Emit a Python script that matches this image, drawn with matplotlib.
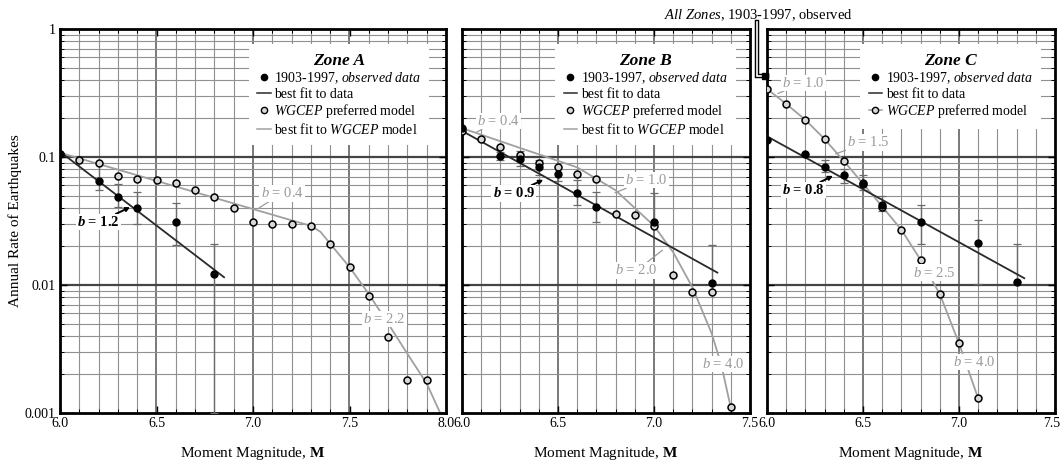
import matplotlib
matplotlib.use("Agg")
import matplotlib.pyplot as plt
import numpy as np
from matplotlib import ticker
from matplotlib.lines import Line2D
from matplotlib.transforms import ScaledTranslation

plt.rcParams["font.family"] = ["Liberation Serif", "DejaVu Serif"]
plt.rcParams["mathtext.fontset"] = "custom"
plt.rcParams["mathtext.rm"] = "Liberation Serif"
plt.rcParams["mathtext.it"] = "Liberation Serif:italic"
plt.rcParams["mathtext.bf"] = "Liberation Serif:bold"
plt.rcParams["mathtext.bfit"] = "Liberation Serif:italic:bold"

# ---- Zone A ----
a_obs_m = [6.0, 6.2, 6.3, 6.4, 6.6, 6.8]
a_obs_rate = [0.105, 0.065, 0.049, 0.040, 0.031, 0.0122]
a_obs_low = [0.105, 0.055, 0.041, 0.030, 0.0205, 0.001]
a_obs_high = [0.105, 0.090, 0.062, 0.053, 0.044, 0.021]
a_fit_m = [6.0, 6.85]
a_fit_rate = [0.11, 0.0115]
a_model_m = [6.0, 6.1, 6.2, 6.3, 6.4, 6.5, 6.6, 6.7, 6.8, 6.9,
             7.0, 7.1, 7.2, 7.3, 7.4, 7.5, 7.6, 7.7, 7.8, 7.9]
a_model_rate = [0.105, 0.095, 0.090, 0.071, 0.067, 0.066, 0.063, 0.055, 0.049, 0.040,
                0.031, 0.030, 0.030, 0.029, 0.021, 0.0138, 0.0082, 0.0039, 0.0018, 0.0018]
a_model_fit_m = [6.0, 7.2, 7.3, 7.35, 7.4, 7.5, 7.6, 7.7, 7.8, 7.9, 7.97]
a_model_fit_rate = [0.108, 0.032, 0.029, 0.026, 0.021, 0.0138, 0.0085, 0.005, 0.0029, 0.0017, 0.001]

# ---- Zone B ----
b_obs_m = [6.0, 6.2, 6.3, 6.4, 6.5, 6.6, 6.7, 7.0, 7.3]
b_obs_rate = [0.17, 0.102, 0.097, 0.083, 0.074, 0.052, 0.041, 0.031, 0.0104]
b_obs_low = [0.17, 0.095, 0.085, 0.072, 0.065, 0.042, 0.031, 0.031, 0.0088]
b_obs_high = [0.17, 0.11, 0.112, 0.095, 0.083, 0.066, 0.053, 0.052, 0.0205]
b_fit_m = [6.0, 7.33]
b_fit_rate = [0.16, 0.0125]
b_model_m = [6.0, 6.1, 6.2, 6.3, 6.4, 6.5, 6.6, 6.7, 6.8, 6.9, 7.0, 7.1, 7.2, 7.3, 7.4]
b_model_rate = [0.16, 0.138, 0.12, 0.104, 0.09, 0.083, 0.074, 0.067, 0.036, 0.035,
                0.029, 0.012, 0.0088, 0.0088, 0.00112]
b_model_fit_m = [6.0, 6.3, 6.6, 6.8, 7.0, 7.1, 7.2, 7.3, 7.35, 7.4]
b_model_fit_rate = [0.168, 0.118, 0.083, 0.055, 0.029, 0.018, 0.0096, 0.0042, 0.0024, 0.0011]

# ---- Zone C ----
c_obs_m = [6.0, 6.2, 6.3, 6.4, 6.5, 6.6, 6.8, 7.1, 7.3]
c_obs_rate = [0.136, 0.105, 0.084, 0.072, 0.063, 0.042, 0.031, 0.0213, 0.0106]
c_obs_low = [0.136, 0.105, 0.076, 0.063, 0.055, 0.038, 0.021, 0.0102, 0.0106]
c_obs_high = [0.136, 0.105, 0.095, 0.080, 0.072, 0.050, 0.042, 0.032, 0.021]
c_fit_m = [6.0, 7.34]
c_fit_rate = [0.145, 0.0113]
c_model_m = [6.0, 6.1, 6.2, 6.3, 6.4, 6.5, 6.6, 6.7, 6.8, 6.9, 7.0, 7.1]
c_model_rate = [0.34, 0.26, 0.195, 0.138, 0.093, 0.062, 0.041, 0.027, 0.0157, 0.0085, 0.0035, 0.0013]

all_zones_m = 6.0
all_zones_rate = 0.43

# b-value labels: text, centre (m, rate), arrow target or None, bold
a_labels = [("1.2", 6.2, 0.031, (6.37, 0.041), True),
            ("0.4", 7.15, 0.052, (7.02, 0.039), False),
            ("2.2", 7.68, 0.0054, None, False)]
b_labels = [("0.4", 6.19, 0.19, (6.07, 0.155), False),
            ("1.0", 6.96, 0.066, (6.79, 0.052), False),
            ("0.9", 6.27, 0.052, (6.43, 0.067), True),
            ("2.0", 6.91, 0.013, (7.05, 0.019), False),
            ("4.0", 7.36, 0.0024, None, False)]
c_labels = [("1.0", 6.19, 0.38, (6.05, 0.31), False),
            ("1.5", 6.53, 0.13, (6.35, 0.105), False),
            ("0.8", 6.19, 0.055, (6.35, 0.072), True),
            ("2.5", 6.87, 0.0125, None, False),
            ("4.0", 7.08, 0.0025, None, False)]

DARK = "#2a2a2a"
GREY = "#a0a0a0"
TEXT_GREY = "#9a9a9a"

fig = plt.figure(figsize=(10.62, 4.65), dpi=100)
W, H = 1062, 465
bottom, height = 1 - 413 / H, 384 / H
ax_a = fig.add_axes([60 / W, bottom, 386 / W, height])
ax_b = fig.add_axes([462 / W, bottom, 288 / W, height])
ax_c = fig.add_axes([767 / W, bottom, 288 / W, height])


def setup_axes(ax, xmax):
    ax.set_yscale("log")
    ax.set_xlim(6.0, xmax)
    ax.set_ylim(0.001, 1)
    # grid drawn by hand so the legend box can sit on top of it
    for m in np.arange(6.1, xmax - 0.05, 0.1):
        major = abs(m * 2 - round(m * 2)) < 1e-6
        ax.axvline(m, color="#555555" if major else "#909090",
                   lw=1.1 if major else 0.8, zorder=0.5)
    for dec in [0.001, 0.01, 0.1]:
        for k in range(2, 10):
            ax.axhline(dec * k, color="#909090", lw=0.8, zorder=0.5)
        if dec > 0.001:
            ax.axhline(dec, color="#444444", lw=1.6, zorder=0.5)
    ax.xaxis.set_major_locator(ticker.FixedLocator(np.arange(6.0, xmax + 0.01, 0.5)))
    ax.xaxis.set_minor_locator(ticker.MultipleLocator(0.1))
    ax.xaxis.set_major_formatter(ticker.FormatStrFormatter("%.1f"))
    ax.yaxis.set_major_locator(ticker.LogLocator(base=10))
    ax.yaxis.set_minor_locator(ticker.LogLocator(base=10, subs=np.arange(2, 10)))
    ax.yaxis.set_major_formatter(ticker.FuncFormatter(lambda v, p: f"{v:g}"))
    ax.yaxis.set_minor_formatter(ticker.NullFormatter())
    ax.tick_params(which="both", direction="in", top=True, right=True,
                   labelsize=10, pad=3, colors="black")
    ax.tick_params(which="major", length=5, width=1)
    ax.tick_params(which="minor", length=3, width=0.7)
    for s in ax.spines.values():
        s.set_linewidth(2.0)
    ax.set_xlabel(r"Moment Magnitude, $\mathbf{M}$", fontsize=11, labelpad=11)


def draw_observed(ax, m, rate, low, high, fit_m, fit_rate):
    rate = np.array(rate)
    yerr = [rate - np.array(low), np.array(high) - rate]
    ax.errorbar(m, rate, yerr=yerr, fmt="none", ecolor="#6a6a6a",
                elinewidth=1.0, capsize=3, capthick=0.9, zorder=3)
    ax.plot(fit_m, fit_rate, color=DARK, lw=1.3, zorder=3)
    ax.plot(m, rate, "o", color="black", ms=5, zorder=5)


def draw_model(ax, m, rate, fit_m=None, fit_rate=None):
    if fit_m is not None:
        ax.plot(fit_m, fit_rate, color=GREY, lw=1.3, zorder=2)
    else:
        ax.plot(m, rate, color=GREY, lw=1.3, zorder=2)
    ax.plot(m, rate, "o", mfc="#d8d8d8", mec="black", mew=1.1, ms=5, zorder=4)


def draw_labels(ax, labels):
    for val, x, y, target, bold in labels:
        color = "black" if bold else TEXT_GREY
        txt = (r"$\mathbfit{b}$ = " if bold else r"$b$ = ") + val
        bbox = dict(boxstyle="square,pad=0.08", fc="white", ec="none")
        kw = dict(ha="center", va="center", fontsize=10.5, color=color,
                  fontweight="bold" if bold else "normal", bbox=bbox, zorder=6)
        if target is None:
            ax.text(x, y, txt, **kw)
        else:
            ax.annotate(txt, xy=target, xytext=(x, y),
                        arrowprops=dict(arrowstyle="-|>" if bold else "-",
                                        color=color, lw=1.4 if bold else 0.9,
                                        mutation_scale=6, shrinkA=0, shrinkB=1),
                        **kw)


def add_legend(ax, title, three=False):
    h_obs = Line2D([], [], ls="none", marker="o", color="black", ms=4.5)
    h_fit = Line2D([], [], color=DARK, lw=1.1)
    h_mod = Line2D([], [], ls="none", marker="o", mfc="#d8d8d8", mec="black", ms=4.5)
    h_mfit = Line2D([], [], color=GREY, lw=1.1)
    lab_obs = r"1903-1997, $\mathit{observed\ data}$"
    lab_mod = r"$\mathit{WGCEP}$ preferred model"
    if three:
        h_mod = Line2D([], [], color=GREY, lw=1.1, marker="o", mfc="#d8d8d8",
                       mec="black", ms=4.5)
        handles = [h_obs, h_fit, h_mod]
        labels = [lab_obs, "best fit to data", lab_mod]
    else:
        handles = [h_obs, h_fit, h_mod, h_mfit]
        labels = [lab_obs, "best fit to data", lab_mod,
                  r"best fit to $\mathit{WGCEP}$ model"]
    leg = ax.legend(handles, labels, loc="upper right", bbox_to_anchor=(0.975, 0.978),
                    fontsize=10, frameon=True, fancybox=False, framealpha=1,
                    edgecolor="none", facecolor="white", handlelength=1.0,
                    handletextpad=0.25, labelspacing=0.12, borderpad=0.6,
                    title=title, title_fontproperties={"size": 12.5, "weight": "bold",
                                                       "style": "italic"})
    leg.set_zorder(2)
    return leg


setup_axes(ax_a, 8.0)
setup_axes(ax_b, 7.5)
setup_axes(ax_c, 7.5)
ax_b.tick_params(labelleft=False)
ax_c.tick_params(labelleft=False)
ax_a.set_ylabel("Annual Rate of Earthquakes", fontsize=11, labelpad=2)

draw_model(ax_a, a_model_m, a_model_rate, a_model_fit_m, a_model_fit_rate)
draw_observed(ax_a, a_obs_m, a_obs_rate, a_obs_low, a_obs_high, a_fit_m, a_fit_rate)
draw_labels(ax_a, a_labels)
add_legend(ax_a, "Zone A")

draw_model(ax_b, b_model_m, b_model_rate, b_model_fit_m, b_model_fit_rate)
draw_observed(ax_b, b_obs_m, b_obs_rate, b_obs_low, b_obs_high, b_fit_m, b_fit_rate)
draw_labels(ax_b, b_labels)
add_legend(ax_b, "Zone B")

draw_model(ax_c, c_model_m, c_model_rate)
draw_observed(ax_c, c_obs_m, c_obs_rate, c_obs_low, c_obs_high, c_fit_m, c_fit_rate)
draw_labels(ax_c, c_labels)
add_legend(ax_c, "Zone C", three=True)

# all-zones point with leader up to its caption
lead_x = all_zones_m - 0.05
for lw, col in [(3.2, "black"), (1.2, "white")]:
    ax_c.plot([lead_x, lead_x, all_zones_m], [1.14, all_zones_rate, all_zones_rate],
              color=col, lw=lw, clip_on=False, zorder=7, solid_joinstyle="miter")
ax_c.plot([all_zones_m - 0.012], [all_zones_rate], "s", color="black", ms=4,
          clip_on=False, zorder=8)
fig.text(758 / W, 1 - 15 / H, r"$\mathit{All\ Zones}$, 1903-1997, observed",
         ha="center", va="center", fontsize=10.5)

# keep the edge labels clear of each other and of the figure border
nudge = ScaledTranslation(-3 / 100, 0, fig.dpi_scale_trans)
last = ax_c.get_xticklabels()[-1]
last.set_transform(last.get_transform() + nudge)
lift = ScaledTranslation(0, 3 / 100, fig.dpi_scale_trans)
low = ax_a.get_yticklabels()[0]
low.set_transform(low.get_transform() + lift)

fig.savefig("out.png", dpi=100)
